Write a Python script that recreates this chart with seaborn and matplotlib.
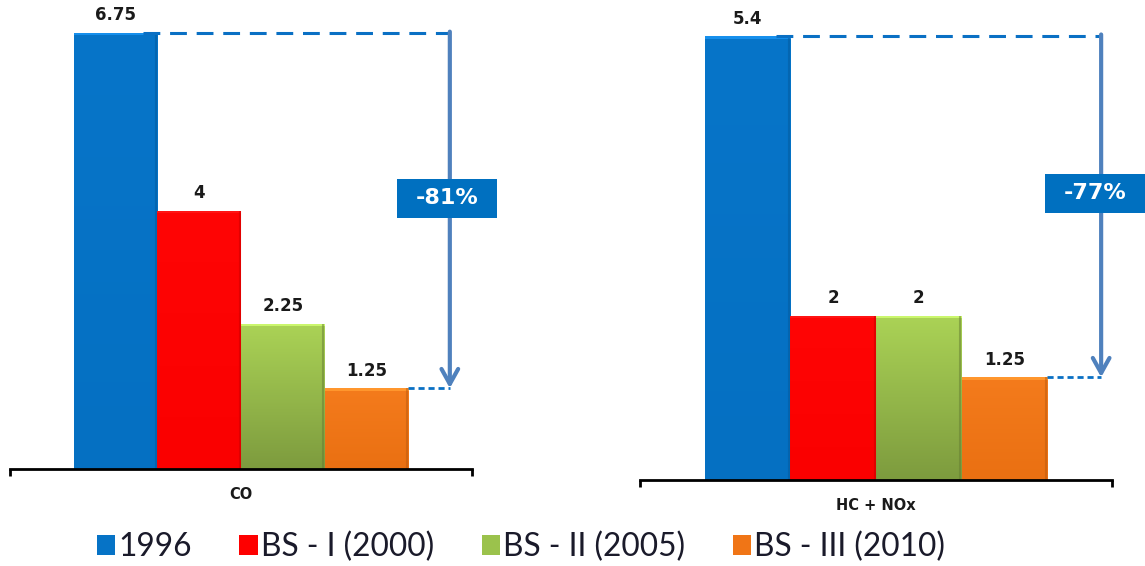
import numpy as np
import pandas as pd
import matplotlib
matplotlib.use("Agg")
import matplotlib.pyplot as plt
import seaborn as sns
from matplotlib.patches import Patch, Rectangle
from matplotlib.colors import to_rgb

# Emission limits per pollutant for each standard
pollutants = ["CO", "HC + NOx"]
standards = ["1996", "BS - I (2000)", "BS - II (2005)", "BS - III (2010)"]
co_values = [6.75, 4, 2.25, 1.25]
hcnox_values = [5.4, 2, 2, 1.25]

bar_colors = ["#0673C6", "#FE0000", "#9BC24C", "#F07516"]
# top / bottom shades used for the soft vertical gradient on each bar
grad_top = ["#0775C9", "#FF0505", "#ABD356", "#F47B1C"]
grad_bottom = ["#0570C2", "#FA0000", "#7D9B3E", "#EA7012"]

sns.set_theme(style="white")
plt.rcParams["font.family"] = ["DejaVu Sans"]

W, H, DPI = 1145, 566, 100
fig = plt.figure(figsize=(W / DPI, H / DPI), dpi=DPI)
fig.patch.set_facecolor("white")

# panel placement in pixels:
# (left, right, baseline, px per unit, values, arrow x, box centre x, box centre y)
panels = [
    (10, 472, 469, 64.6, co_values, 0.452, 0.446, 4.19),
    (640, 1112, 480, 82.2, hcnox_values, 0.477, 0.464, 3.49),
]
top_px = 18
box_w_px, box_h_px = 100, 39

for name, (x0, x1, base, ppu, vals, xv, xbox, ybox) in zip(pollutants, panels):
    ax_px = x1 - x0
    ax = fig.add_axes([x0 / W, 1 - base / H, ax_px / W, (base - top_px) / H])
    df = pd.DataFrame({"pollutant": name, "standard": standards, "value": vals})
    sns.barplot(data=df, x="pollutant", y="value", hue="standard",
                hue_order=standards, palette=bar_colors, saturation=1,
                width=0.725, legend=False, ax=ax, edgecolor="none")
    ax.set_xlabel("")
    ax.set_ylabel("")
    ax.set_yticks([])
    for s in ["left", "right", "top"]:
        ax.spines[s].set_visible(False)
    ax.spines["bottom"].set_color("black")
    ax.spines["bottom"].set_linewidth(2)
    ax.set_xticks([-0.5, 0.5], minor=True)
    ax.tick_params(axis="x", which="minor", direction="out", length=5,
                   width=2, color="black", bottom=True)
    ax.tick_params(axis="x", which="major", length=0, pad=13)
    for lbl in ax.get_xticklabels():
        lbl.set_fontweight("bold")
        lbl.set_fontsize(10.5)
        lbl.set_color("#1a1a1a")

    bars = list(ax.patches)[: len(vals)]
    # vertical gradient overlay clipped to each bar
    for i, p in enumerate(bars):
        bx, by = p.get_x(), p.get_y()
        bw, bh = p.get_width(), p.get_height()
        c_top, c_bot = np.array(to_rgb(grad_top[i])), np.array(to_rgb(grad_bottom[i]))
        n = int(round(bh * ppu))
        t = np.linspace(0, 1, n)[:, None]
        img = (c_top * (1 - t) + c_bot * t)[:, None, :].repeat(2, axis=1)
        # light bevel along the top edge
        img[:3] = np.clip(img[:3] * 1.1 + 0.06, 0, 1)
        im = ax.imshow(img, extent=(bx, bx + bw, by, by + bh), aspect="auto",
                       origin="upper", zorder=p.get_zorder() + 0.1,
                       interpolation="nearest")
        im.set_clip_path(p)
        # subtle darker right edge
        ax.plot([bx + bw * 0.985] * 2, [by, by + bh], color=c_bot * 0.8,
                lw=1.5, alpha=0.5, zorder=p.get_zorder() + 0.2,
                solid_capstyle="butt")
    ax.set_xlim(-0.5, 0.5)
    ax.set_ylim(0, (base - top_px) / ppu)

    for p, v in zip(bars, vals):
        ax.text(p.get_x() + p.get_width() / 2, p.get_height() + 8.5 / ppu,
                f"{v:g}", ha="center", va="bottom", fontsize=12,
                fontweight="bold", color="#1a1a1a", zorder=5)

    first, last = vals[0], vals[-1]
    first_right = bars[0].get_x() + bars[0].get_width()
    last_right = bars[-1].get_x() + bars[-1].get_width()

    # dashed guides from the first and last bars to the arrow
    ax.plot([first_right - 0.03, xv], [first, first], color="#0A70C4", lw=2.2,
            dashes=(5.5, 3.2), zorder=4, clip_on=False)
    ax.plot([last_right, xv], [last, last], color="#0A70C4", lw=2.0,
            dashes=(2.2, 1.4), zorder=4, clip_on=False)
    ax.annotate("", xy=(xv, last), xytext=(xv, first + 0.02),
                arrowprops=dict(arrowstyle="->,head_length=0.9,head_width=0.5",
                                color="#4F81BD", lw=3, shrinkA=0, shrinkB=0),
                zorder=4, annotation_clip=False)

    pct = round((last - first) / first * 100)
    bw_d, bh_d = box_w_px / ax_px, box_h_px / ppu
    ax.add_patch(Rectangle((xbox - bw_d / 2, ybox - bh_d / 2), bw_d, bh_d,
                           facecolor="#0070C0", edgecolor="none", zorder=6,
                           clip_on=False))
    ax.text(xbox, ybox, f"{pct}%", ha="center", va="center",
            fontsize=16, fontweight="bold", color="white", zorder=7,
            clip_on=False)

handles = [Patch(facecolor=c, edgecolor="none") for c in bar_colors]
leg = fig.legend(handles, standards, loc="center", ncol=4,
                 bbox_to_anchor=(521 / W, 1 - 547 / H), frameon=False,
                 handlelength=0.58, handleheight=0.58,
                 handletextpad=0.1, columnspacing=1.5,
                 prop={"family": ["Lato", "DejaVu Sans"], "size": 22.8})
for t in leg.get_texts():
    t.set_color("#1a1a2a")

fig.savefig("out.png", dpi=DPI, facecolor="white")
